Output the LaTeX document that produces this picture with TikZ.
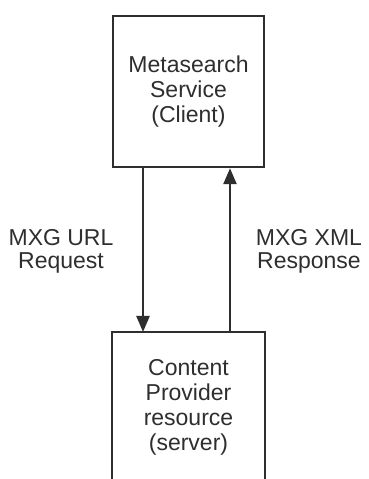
\documentclass[tikz,border=0pt]{standalone}
\usepackage{fontspec}
\setmainfont{Liberation Sans}
\usetikzlibrary{arrows.meta}
\definecolor{ink}{HTML}{2E2E2E}
\begin{document}
\begin{tikzpicture}[x=1pt,y=1pt,
 box/.style={draw=ink, line width=2.4pt, minimum width=151pt, minimum height=151pt, inner sep=0pt, align=center, text=ink, font=\fontsize{23}{25}\selectfont},
 lbl/.style={align=center, text=ink, font=\fontsize{23}{23}\selectfont, inner sep=0pt},
 edge/.style={draw=ink, line width=2.4pt},
 arr/.style={draw=ink, line width=2.4pt, -{Triangle[length=16pt,width=13pt]}}]
\useasboundingbox (0,0) rectangle (369,479);
\clip (0,0) rectangle (369,479);
\node[box] (top) at (188.5,387.5) {Metasearch\\Service\\(Client)};
\node[box, draw=none, minimum height=149pt, anchor=north] (bot) at (188.5,147) {Content\\Provider\\resource\\(server)};
\draw[edge] (bot.south west) -- (bot.north west) -- (bot.north east) -- (bot.south east);
\node[lbl] (req) at (61,228) {MXG URL\\Request};
\node[lbl] (resp) at (309,228) {MXG XML\\Response};
\coordinate (lx) at (143,0);
\coordinate (rx) at (230,0);
\draw[arr] (top.south -| lx) -- (bot.north -| lx);
\draw[arr] (bot.north -| rx) -- (top.south -| rx);
\end{tikzpicture}
\end{document}
